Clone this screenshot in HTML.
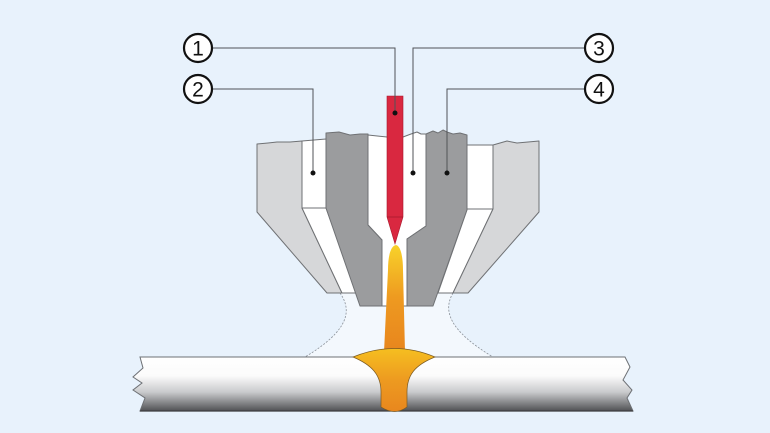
<!DOCTYPE html>
<html><head><meta charset="utf-8"><style>
html,body{margin:0;padding:0;background:#e8f2fc;}
svg{display:block;}
text{font-family:"Liberation Sans",sans-serif;}
</style></head><body>
<svg width="770" height="433" viewBox="0 0 770 433" xmlns="http://www.w3.org/2000/svg">
<defs>
<linearGradient id="plate" x1="0" y1="357" x2="0" y2="411" gradientUnits="userSpaceOnUse">
<stop offset="0" stop-color="#ffffff"/>
<stop offset="0.35" stop-color="#fbfbfb"/>
<stop offset="0.65" stop-color="#c9cacc"/>
<stop offset="1" stop-color="#505154"/>
</linearGradient>
<linearGradient id="flame" x1="0" y1="245" x2="0" y2="350" gradientUnits="userSpaceOnUse">
<stop offset="0" stop-color="#f8d22a"/>
<stop offset="0.5" stop-color="#ee9a20"/>
<stop offset="1" stop-color="#e8861e"/>
</linearGradient>
<linearGradient id="weld" x1="0" y1="348" x2="0" y2="413" gradientUnits="userSpaceOnUse">
<stop offset="0" stop-color="#f6bf20"/>
<stop offset="0.5" stop-color="#ed9a20"/>
<stop offset="1" stop-color="#e8861e"/>
</linearGradient>
</defs>
<rect width="770" height="433" fill="#e8f2fc"/>

<!-- gas region -->
<path d="M340,293 C352,310 350,330 305,357 L493,357 C448,330 443,310 453,293 Z" fill="#f3f8fd"/>
<path d="M340,293 C352,310 350,330 305,357" fill="none" stroke="#8a9098" stroke-width="0.8" stroke-dasharray="2,1.5"/>
<path d="M453,293 C443,310 448,330 493,357" fill="none" stroke="#8a9098" stroke-width="0.8" stroke-dasharray="2,1.5"/>

<g stroke="#6f7174" stroke-width="1" stroke-linejoin="round">
<!-- left light gray -->
<path d="M257,144 L268,143 L277,142 L290,142 L302,141 L302,208 L342,293 L327,293 L257,212 Z" fill="#d6d7d9"/>
<!-- left white -->
<path d="M302,141 L326,139 L326,208 L357,293 L342,293 L302,208 Z" fill="#ffffff"/>
<line x1="302" y1="208" x2="326" y2="208"/>
<!-- center white -->
<path d="M368,135 L387,137 L403,137 L411,134 L417,132 L421,134 L426,134 L426,226 L407,239 L407,306 L382,306 L382,240 L368,225 Z" fill="#ffffff"/>
<!-- left dark gray -->
<path d="M326,133 L339,132 L350,135 L360,134 L368,134 L368,225 L382,240 L382,306 L360,306 L326,208 Z" fill="#9b9c9e"/>
<!-- right dark gray -->
<path d="M426,134 L433,131 L438,133 L443,130 L447,132 L453,134 L460,133 L467,135 L467,210 L433,306 L407,306 L407,239 L426,226 Z" fill="#9b9c9e"/>
<!-- right white -->
<path d="M467,145 L493,145 L493,209 L453,293 L438,293 L467,210 Z" fill="#ffffff"/>
<line x1="467" y1="209" x2="493" y2="209"/>
<!-- right light gray -->
<path d="M493,145 L500,143 L507,141 L517,143 L528,142 L539,141 L539,212 L468,293 L453,293 L493,209 Z" fill="#d6d7d9"/>
</g>

<!-- electrode -->
<path d="M387,96 L403,96 L403,217 L395,244 L387,217 Z" fill="#d92840" stroke="#a8182c" stroke-width="0.6"/>
<line x1="387" y1="217" x2="403" y2="217" stroke="#a8182c" stroke-width="0.8"/>

<!-- flame -->
<path d="M396,245 C390,246 388,258 388,270 L384,352 L405,352 L403,270 C403,258 401,246 396,245 Z" fill="url(#flame)"/>

<!-- plate -->
<path d="M140,357 L625,357 L630,367 L623,380 L632,390 L627,398 L633,411 L140,411 L145,398 L133,390 L142,383 L133,377 L143,368 Z" fill="url(#plate)" stroke="#6d7074" stroke-width="1"/>
<line x1="140" y1="411" x2="633" y2="411" stroke="#3d3e40" stroke-width="1.2"/>

<!-- weld -->
<path d="M353,357 Q395,340 435,357 C415,365 407,375 407,392 L407,407 Q395,416 381,407 L381,392 C381,375 372,365 353,357 Z" fill="url(#weld)" stroke="#7a5a22" stroke-width="0.7"/>

<!-- leader lines -->
<g fill="none" stroke="#505357" stroke-width="1">
<path d="M212,48 H395 V113"/>
<path d="M212,89 H313 V173"/>
<path d="M585,48 H413 V173"/>
<path d="M585,89 H447 V173"/>
</g>
<g fill="#111">
<circle cx="395" cy="113" r="2.5"/>
<circle cx="313" cy="173" r="2.5"/>
<circle cx="413" cy="173" r="2.5"/>
<circle cx="447" cy="173" r="2.5"/>
</g>

<!-- callout circles -->
<g fill="#ffffff" stroke="#111" stroke-width="2.2">
<circle cx="198" cy="48" r="14"/>
<circle cx="198" cy="89" r="14"/>
<circle cx="599" cy="48" r="14"/>
<circle cx="599" cy="89" r="14"/>
</g>
<g font-size="21" fill="#111" text-anchor="middle">
<text x="198" y="55.5">1</text>
<text x="198" y="96.5">2</text>
<text x="599" y="55.5">3</text>
<text x="599" y="96.5">4</text>
</g>
</svg>
</body></html>
